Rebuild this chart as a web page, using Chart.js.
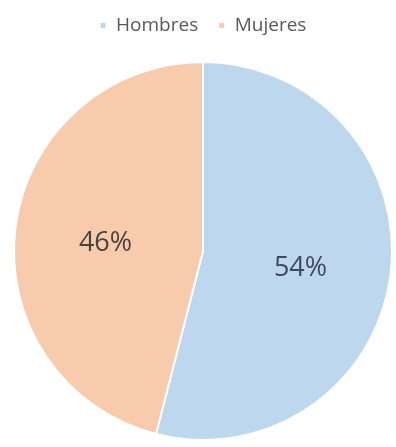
<!DOCTYPE html>
<html>
<head>
<meta charset="utf-8">
<script src="https://cdn.jsdelivr.net/npm/chart.js@4.4.1/dist/chart.umd.min.js"></script>
<style>
    html, body { margin: 0; padding: 0; background: #ffffff; }
    #wrap { width: 396px; height: 447px; }
</style>
</head>
<body>
<div id="wrap"><canvas id="chart_sexo"></canvas></div>
<script>
// Data
const labels = ['Hombres', 'Mujeres']
const values = [54, 46]
const colors = ['rgb(189, 215, 238)', 'rgb(248, 203, 173)']
const labelColors = ['#3f4b5b', '#4a4440']

// labels inside the slices, like excel
const pctLabels = {
    id: 'pctLabels',
    afterDatasetsDraw(chart) {
        const ctx = chart.ctx
        const meta = chart.getDatasetMeta(0)
        const total = values.reduce((a, b) => a + b, 0)
        ctx.save()
        ctx.font = '27px "Open Sans"'
        ctx.textAlign = 'center'
        ctx.textBaseline = 'middle'
        meta.data.forEach((arc, i) => {
            const mid = (arc.startAngle + arc.endAngle) / 2
            const r = arc.outerRadius * 0.52
            ctx.fillStyle = labelColors[i]
            ctx.fillText(Math.round(values[i] / total * 100) + '%', arc.x + Math.cos(mid) * r, arc.y + Math.sin(mid) * r + 5)
        })
        ctx.restore()
    }
}

// extra space under the legend
const legendGap = {
    id: 'legendGap',
    beforeInit(chart) {
        const fit = chart.legend.fit
        chart.legend.fit = function () {
            fit.bind(chart.legend)()
            this.height += 13
        }
    }
}

new Chart(document.getElementById('chart_sexo'), {
    type: 'pie',
    data: {
        labels: labels,
        datasets: [{
            data: values,
            backgroundColor: colors,
            borderColor: '#ffffff',
            borderWidth: 2,
            hoverOffset: 0
        }]
    },
    options: {
        responsive: true,
        maintainAspectRatio: false,
        animation: false,
        layout: {
            padding: { top: -4, left: 13, right: 3, bottom: 3 }
        },
        plugins: {
            legend: {
                position: 'top',
                labels: {
                    font: { family: 'Open Sans', size: 19 },
                    color: '#595959',
                    boxWidth: 7,
                    boxHeight: 7,
                    padding: 20
                }
            },
            tooltip: { enabled: false }
        }
    },
    plugins: [pctLabels, legendGap]
});
</script>
</body>
</html>
